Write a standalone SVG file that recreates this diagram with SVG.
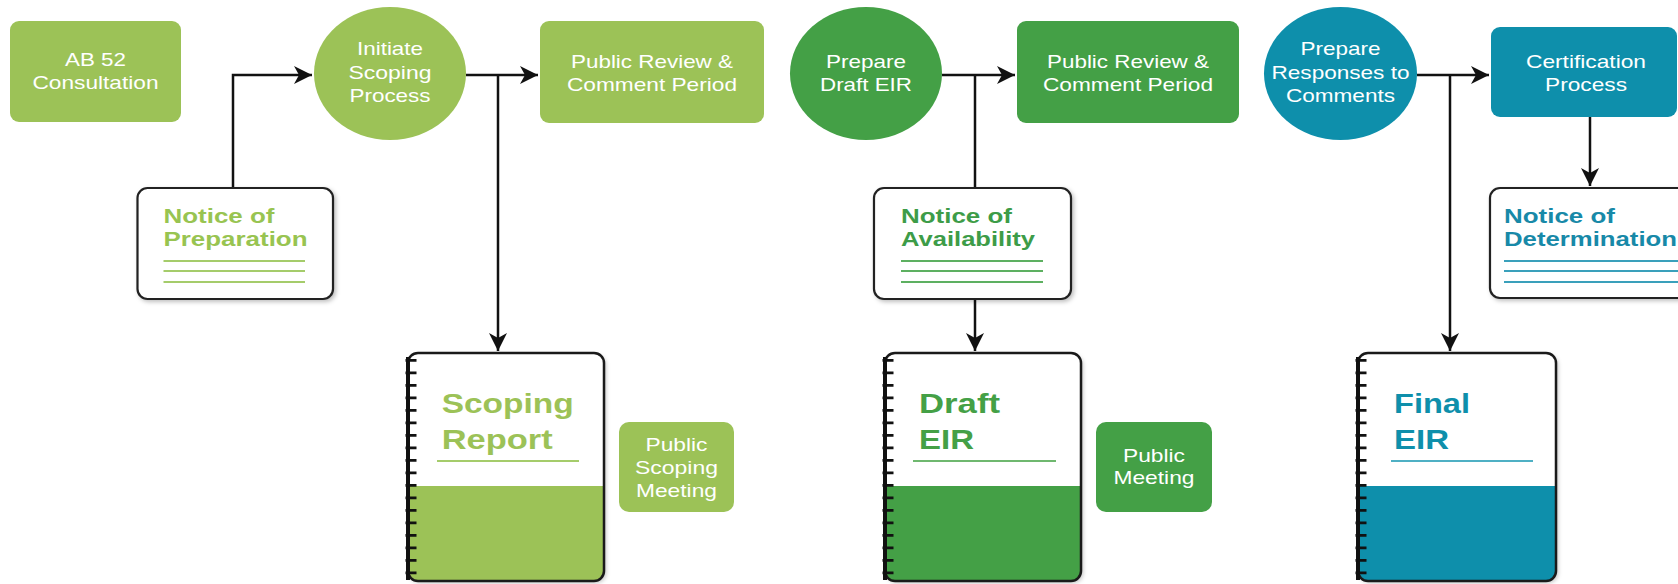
<svg xmlns="http://www.w3.org/2000/svg" width="1678" height="584" viewBox="0 0 1678 584">
<style>
  text { font-family: "Liberation Sans", Arial, sans-serif; }
  .lbl { fill: #ffffff; font-size: 18.5px; text-anchor: middle; }
  .nt { font-size: 20px; font-weight: bold; }
  .big { font-size: 28px; font-weight: bold; }
  .lg { fill: #9cc257; }
  .mg { fill: #44a046; }
  .tl { fill: #0e8fab; }
  .card { fill: #ffffff; stroke: #222222; stroke-width: 2.2; }
  .doc { fill: none; stroke: #1a1a1a; stroke-width: 2.5; }
  .spine { stroke: #111111; stroke-width: 4; }
  .ticks { stroke: #111111; stroke-width: 11; stroke-dasharray: 2.8 9.7; }
  .conn { fill: none; stroke: #111111; stroke-width: 2.5; }
  .rule { stroke-width: 1.8; }
</style>
<defs>
  <marker id="ah" markerUnits="userSpaceOnUse" markerWidth="20" markerHeight="20" refX="18" refY="9" orient="auto">
    <path d="M0,0 L18,9 L0,18 L5,9 z" fill="#111111"/>
  </marker>
  <filter id="sh" x="-10%" y="-10%" width="130%" height="130%">
    <feDropShadow dx="2" dy="2" stdDeviation="2" flood-color="#000" flood-opacity="0.25"/>
  </filter>
</defs>

<g id="connectors">
  <path class="conn" d="M233,188 V75 H312" marker-end="url(#ah)"/>
  <path class="conn" d="M466,75 H538" marker-end="url(#ah)"/>
  <path class="conn" d="M498,75 V351" marker-end="url(#ah)"/>
  <path class="conn" d="M942,75 H1015" marker-end="url(#ah)"/>
  <path class="conn" d="M975,75 V188"/>
  <path class="conn" d="M975,299 V351" marker-end="url(#ah)"/>
  <path class="conn" d="M1417,75 H1489" marker-end="url(#ah)"/>
  <path class="conn" d="M1450,75 V351" marker-end="url(#ah)"/>
  <path class="conn" d="M1590,117 V186" marker-end="url(#ah)"/>
</g>

<g id="ab52">
  <rect x="10" y="21" width="171" height="101" rx="9" class="lg"/>
  <text class="lbl" x="95.5" y="65.5" textLength="61" lengthAdjust="spacingAndGlyphs">AB 52</text>
  <text class="lbl" x="95.5" y="88.5" textLength="126" lengthAdjust="spacingAndGlyphs">Consultation</text>
</g>

<g id="initiate">
  <ellipse cx="390" cy="73.5" rx="76" ry="66.5" class="lg"/>
  <text class="lbl" x="390" y="55" textLength="66" lengthAdjust="spacingAndGlyphs">Initiate</text>
  <text class="lbl" x="390" y="79" textLength="83" lengthAdjust="spacingAndGlyphs">Scoping</text>
  <text class="lbl" x="390" y="101.5" textLength="81" lengthAdjust="spacingAndGlyphs">Process</text>
</g>

<g id="review1">
  <rect x="540" y="21" width="224" height="102" rx="9" class="lg"/>
  <text class="lbl" x="652" y="68.3" textLength="162" lengthAdjust="spacingAndGlyphs">Public Review &amp;</text>
  <text class="lbl" x="652" y="90.7" textLength="170" lengthAdjust="spacingAndGlyphs">Comment Period</text>
</g>

<g id="draft">
  <ellipse cx="866" cy="73.5" rx="76" ry="66.5" class="mg"/>
  <text class="lbl" x="866" y="68.3" textLength="80" lengthAdjust="spacingAndGlyphs">Prepare</text>
  <text class="lbl" x="866" y="90.7" textLength="92" lengthAdjust="spacingAndGlyphs">Draft EIR</text>
</g>

<g id="review2">
  <rect x="1017" y="21" width="222" height="102" rx="9" class="mg"/>
  <text class="lbl" x="1128" y="68.3" textLength="162" lengthAdjust="spacingAndGlyphs">Public Review &amp;</text>
  <text class="lbl" x="1128" y="90.7" textLength="170" lengthAdjust="spacingAndGlyphs">Comment Period</text>
</g>

<g id="responses">
  <ellipse cx="1340.5" cy="73.5" rx="76.5" ry="66.5" class="tl"/>
  <text class="lbl" x="1340.5" y="55" textLength="80" lengthAdjust="spacingAndGlyphs">Prepare</text>
  <text class="lbl" x="1340.5" y="79" textLength="138" lengthAdjust="spacingAndGlyphs">Responses to</text>
  <text class="lbl" x="1340.5" y="101.5" textLength="109" lengthAdjust="spacingAndGlyphs">Comments</text>
</g>

<g id="certification">
  <rect x="1491" y="27" width="186" height="90" rx="9" class="tl"/>
  <text class="lbl" x="1586" y="68.3" textLength="120" lengthAdjust="spacingAndGlyphs">Certification</text>
  <text class="lbl" x="1586" y="90.7" textLength="82" lengthAdjust="spacingAndGlyphs">Process</text>
</g>

<g id="nop">
  <rect x="137.5" y="188" width="195.5" height="111" rx="10" class="card" filter="url(#sh)"/>
  <text class="nt" x="163.5" y="223" fill="#98c451" textLength="111" lengthAdjust="spacingAndGlyphs">Notice of</text>
  <text class="nt" x="163.5" y="246" fill="#98c451" textLength="144" lengthAdjust="spacingAndGlyphs">Preparation</text>
  <g stroke="#a5cc6b" class="rule">
    <line x1="163.5" y1="261" x2="305" y2="261"/>
    <line x1="163.5" y1="271" x2="305" y2="271"/>
    <line x1="163.5" y1="282" x2="305" y2="282"/>
  </g>
</g>

<g id="noa">
  <rect x="874" y="188" width="197" height="111" rx="10" class="card" filter="url(#sh)"/>
  <text class="nt" x="901" y="223" fill="#3d9c48" textLength="111" lengthAdjust="spacingAndGlyphs">Notice of</text>
  <text class="nt" x="901" y="246" fill="#3d9c48" textLength="134" lengthAdjust="spacingAndGlyphs">Availability</text>
  <g stroke="#5db061" class="rule">
    <line x1="901" y1="261" x2="1043" y2="261"/>
    <line x1="901" y1="271" x2="1043" y2="271"/>
    <line x1="901" y1="282" x2="1043" y2="282"/>
  </g>
</g>

<g id="nod">
  <rect x="1490" y="188" width="200" height="110" rx="10" class="card" filter="url(#sh)"/>
  <text class="nt" x="1504" y="223" fill="#1889a8" textLength="111" lengthAdjust="spacingAndGlyphs">Notice of</text>
  <text class="nt" x="1504" y="246" fill="#1889a8" textLength="173" lengthAdjust="spacingAndGlyphs">Determination</text>
  <g stroke="#3aa0bb" class="rule">
    <line x1="1504" y1="261" x2="1678" y2="261"/>
    <line x1="1504" y1="271" x2="1678" y2="271"/>
    <line x1="1504" y1="282" x2="1678" y2="282"/>
  </g>
</g>

<g id="scoping-report">
  <rect x="408" y="353" width="196" height="228" rx="10" fill="#ffffff" filter="url(#sh)"/>
  <path d="M408,486 H604 V571 Q604,581 594,581 H418 Q408,581 408,571 Z" class="lg"/>
  <rect x="408" y="353" width="196" height="228" rx="10" class="doc"/>
  <line x1="408" y1="357" x2="408" y2="580" class="spine"/>
  <line x1="411" y1="359" x2="411" y2="580" class="ticks"/>
  <text class="big lg" x="441.7" y="413" textLength="132" lengthAdjust="spacingAndGlyphs">Scoping</text>
  <text class="big lg" x="441.7" y="449" textLength="111" lengthAdjust="spacingAndGlyphs">Report</text>
  <line x1="437" y1="461" x2="579" y2="461" stroke="#a5cc6b" class="rule"/>
</g>

<g id="scoping-meeting">
  <rect x="619" y="422" width="115" height="90" rx="10" class="lg"/>
  <text class="lbl" x="676.5" y="450.7" textLength="62" lengthAdjust="spacingAndGlyphs">Public</text>
  <text class="lbl" x="676.5" y="473.7" textLength="83" lengthAdjust="spacingAndGlyphs">Scoping</text>
  <text class="lbl" x="676.5" y="496.7" textLength="81" lengthAdjust="spacingAndGlyphs">Meeting</text>
</g>

<g id="draft-eir">
  <rect x="885" y="353" width="196" height="228" rx="10" fill="#ffffff" filter="url(#sh)"/>
  <path d="M885,486 H1081 V571 Q1081,581 1071,581 H895 Q885,581 885,571 Z" class="mg"/>
  <rect x="885" y="353" width="196" height="228" rx="10" class="doc"/>
  <line x1="885" y1="357" x2="885" y2="580" class="spine"/>
  <line x1="888" y1="359" x2="888" y2="580" class="ticks"/>
  <text class="big mg" x="919" y="413" textLength="81" lengthAdjust="spacingAndGlyphs">Draft</text>
  <text class="big mg" x="919" y="449" textLength="55" lengthAdjust="spacingAndGlyphs">EIR</text>
  <line x1="913" y1="461" x2="1056" y2="461" stroke="#6fb86f" class="rule"/>
</g>

<g id="public-meeting">
  <rect x="1096" y="422" width="116" height="90" rx="10" class="mg"/>
  <text class="lbl" x="1154" y="461.7" textLength="62" lengthAdjust="spacingAndGlyphs">Public</text>
  <text class="lbl" x="1154" y="484.3" textLength="81" lengthAdjust="spacingAndGlyphs">Meeting</text>
</g>

<g id="final-eir">
  <rect x="1358" y="353" width="198" height="228" rx="10" fill="#ffffff" filter="url(#sh)"/>
  <path d="M1358,486 H1556 V571 Q1556,581 1546,581 H1368 Q1358,581 1358,571 Z" class="tl"/>
  <rect x="1358" y="353" width="198" height="228" rx="10" class="doc"/>
  <line x1="1358" y1="357" x2="1358" y2="580" class="spine"/>
  <line x1="1361" y1="359" x2="1361" y2="580" class="ticks"/>
  <text class="big tl" x="1394" y="413" textLength="76" lengthAdjust="spacingAndGlyphs">Final</text>
  <text class="big tl" x="1394" y="449" textLength="55" lengthAdjust="spacingAndGlyphs">EIR</text>
  <line x1="1391" y1="461" x2="1533" y2="461" stroke="#4fb0c4" class="rule"/>
</g>
</svg>
